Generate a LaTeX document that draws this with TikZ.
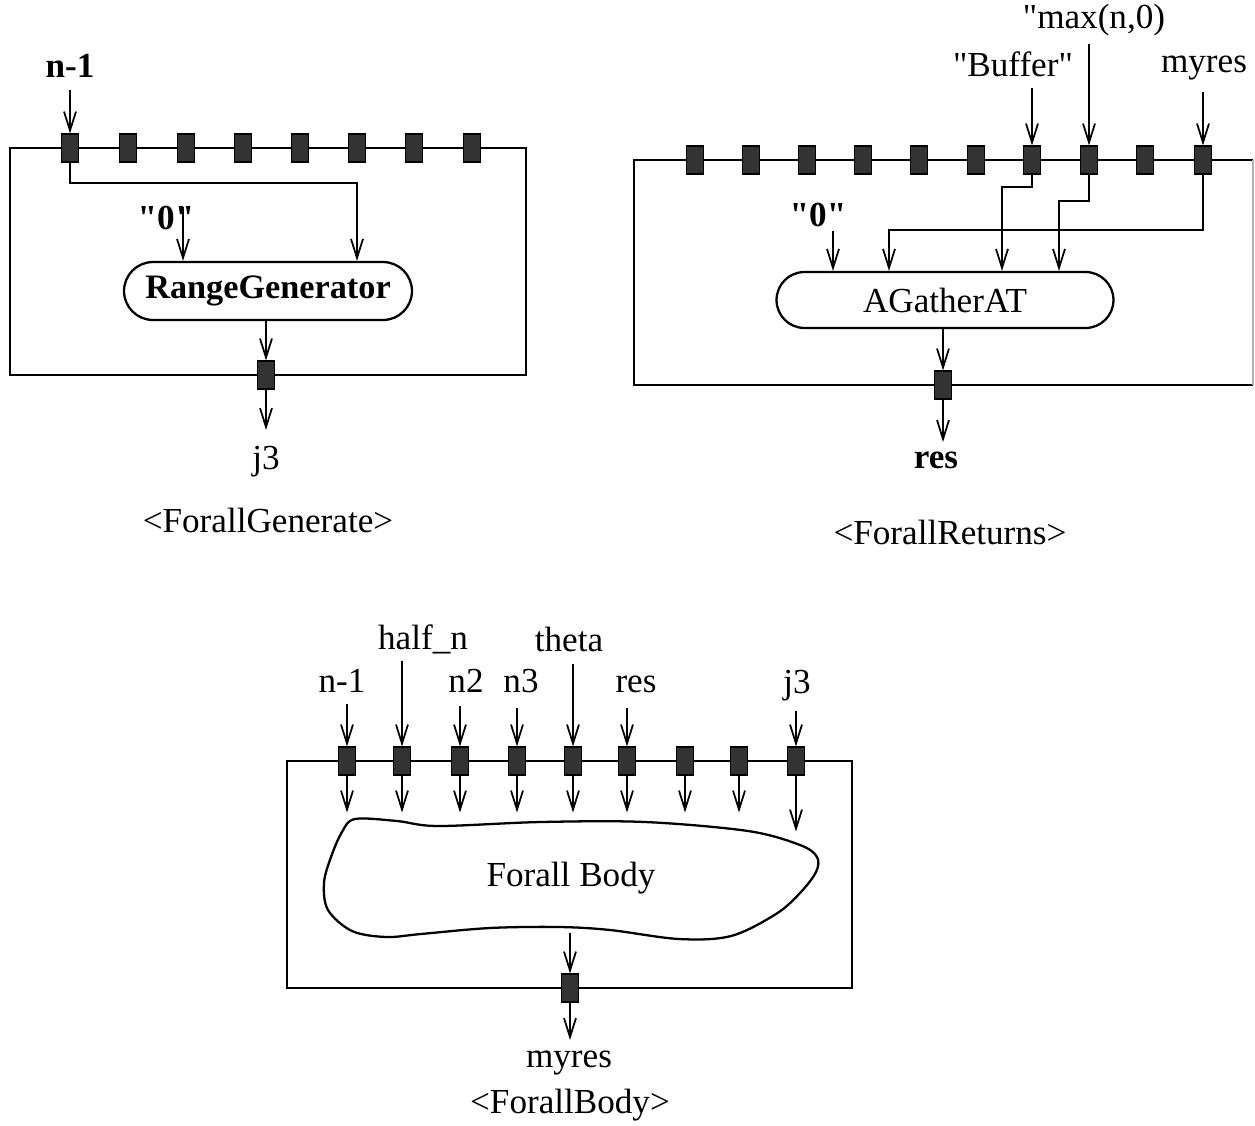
\documentclass[tikz,border=0pt]{standalone}
\usepackage{fontspec}
\setmainfont{Liberation Serif}[Ligatures=TeXOff]
\usetikzlibrary{arrows.meta,shapes.misc,calc}

\begin{document}
\begin{tikzpicture}[x=0.02cm,y=-0.02cm,
  line width=1.1pt,
  box/.style={draw=black,line width=1.2pt},
  port/.style={draw=black,fill=black!80,minimum width=0.34cm,minimum height=0.56cm,inner sep=0pt,line width=0.6pt},
  arr/.style={-{Straight Barb[length=0.38cm,width=0.24cm,line width=1pt]}},
  lbl/.style={font=\fontsize{20}{24}\selectfont,inner sep=1pt},
  blbl/.style={font=\fontsize{20}{24}\selectfont\bfseries,inner sep=1pt},
  proc/.style={draw,rounded rectangle,line width=1.3pt,inner sep=0pt},
]
\useasboundingbox (0,0) rectangle (1255,1126);

% ---------------- ForallGenerate ----------------
\draw[box] (10,148) rectangle (526,375);
\foreach \i/\x in {1/70,2/128,3/186,4/243,5/300,6/357,7/414,8/472}
  \node[port] (g\i) at (\x,148) {};
\node[port] (gout) at (266,375) {};
\node[proc,minimum width=5.76cm,minimum height=1.16cm,
      font=\fontsize{19.5}{24}\selectfont\bfseries] (rg) at (268,291) {RangeGenerator};
\node[blbl] (gn1) at (70,66) {n-1};
\coordinate (gn1a) at (70,90);
\draw[arr] (gn1a) -- (g1.north);
\coordinate (gk) at (357,183);
\draw[arr] (g1.south) |- (gk) -- (gk |- rg.north);
\node[blbl] (g0) at (166,218) {"0"};
\coordinate (g0a) at (183,207);
\draw[arr] (g0a) -- (g0a |- rg.north);
\draw[arr] (rg.south -| gout) -- (gout.north);
\coordinate (gj) at (266,430);
\draw[arr] (gout.south) -- (gj);
\node[lbl] (gj3) at (266,462) {j3};
\node[lbl] (gtitle) at (268,520) {<ForallGenerate>};

% ---------------- ForallReturns ----------------
\draw[box] (1253,160) -- (634,160) -- (634,385) -- (1253,385);
\draw[black!30,line width=0.8pt] (1253,160) -- (1253,385);
\foreach \i/\x in {1/695,2/751,3/807,4/863,5/919,6/976,7/1032,8/1089,9/1145,10/1203}
  \node[port] (r\i) at (\x,160) {};
\node[port] (rout) at (943,385) {};
\node[proc,minimum width=6.74cm,minimum height=1.12cm,
      font=\fontsize{20}{24}\selectfont] (ag) at (945,300) {AGatherAT};
\node[lbl] (rmax) at (1094,20) {"max(n,0)};
\node[lbl] (rbuf) at (1013,64) {"Buffer"};
\node[lbl] (rmy) at (1204,68) {myres};
\coordinate (rmaxa) at (1089,44);
\coordinate (rbufa) at (1032,88);
\coordinate (rmya) at (1203,92);
\draw[arr] (rmaxa) -- (r8.north);
\draw[arr] (rbufa) -- (r7.north);
\draw[arr] (rmya) -- (r10.north);
\coordinate (rk7) at (1002,187);
\coordinate (rk8) at (1059,201);
\coordinate (rk10) at (889,230);
\draw[arr] (r7.south) |- (rk7) -- (rk7 |- ag.north);
\draw[arr] (r8.south) |- (rk8) -- (rk8 |- ag.north);
\draw[arr] (r10.south) |- (rk10) -- (rk10 |- ag.north);
\node[blbl] (r0) at (818,215) {"0"};
\coordinate (r0a) at (833,231);
\draw[arr] (r0a) -- (r0a |- ag.north);
\draw[arr] (ag.south -| rout) -- (rout.north);
\coordinate (rr) at (943,442);
\draw[arr] (rout.south) -- (rr);
\node[blbl] (rres) at (936,460) {res};
\node[lbl] (rtitle) at (950,532) {<ForallReturns>};

% ---------------- ForallBody ----------------
\draw[box] (287,761) rectangle (852,988);
\foreach \i/\x in {1/347,2/402,3/460,4/517,5/573,6/627,7/685,8/739,9/796}
  \node[port] (b\i) at (\x,761) {};
\node[port] (bout) at (570,988) {};
% free-form body outline
\draw[line width=1.3pt] plot[smooth cycle,tension=0.55] coordinates {
  (355,819) (397,821) (438,826) (541,822) (645,822) (748,831) (800,845)
  (817,857) (816,872) (800,893) (776,914) (731,936) (679,939) (610,930)
  (559,927) (490,928) (421,934) (386,937) (352,931) (328,910) (324,883)
  (331,857) (342,832)};
\node[lbl] (fb) at (571,878) {Forall Body};
\node[lbl] (bn1) at (342,681) {n-1};
\node[lbl] (bhalf) at (423,639) {half\_n};
\node[lbl] (bn2) at (466,681) {n2};
\node[lbl] (bn3) at (521,681) {n3};
\node[lbl] (btheta) at (569,639) {theta};
\node[lbl] (bres) at (636,684) {res};
\node[lbl] (bj3) at (797,686) {j3};
\coordinate (ba1) at (347,704);
\coordinate (ba2) at (402,661);
\coordinate (ba3) at (460,706);
\coordinate (ba4) at (517,708);
\coordinate (ba5) at (573,664);
\coordinate (ba6) at (627,708);
\coordinate (ba9) at (796,711);
\foreach \i in {1,2,3,4,5,6,9}
  \draw[arr] (ba\i) -- (b\i.north);
\foreach \i in {1,...,8}
  \draw[arr] (b\i.south) -- ++(0,37);
\draw[arr] (b9.south) -- ++(0,56);
\coordinate (bf) at (570,933);
\draw[arr] (bf) -- (bout.north);
\coordinate (bm) at (570,1040);
\draw[arr] (bout.south) -- (bm);
\node[lbl] (bmy) at (569,1063) {myres};
\node[lbl] (btitle) at (570,1105) {<ForallBody>};
\end{tikzpicture}
\end{document}
